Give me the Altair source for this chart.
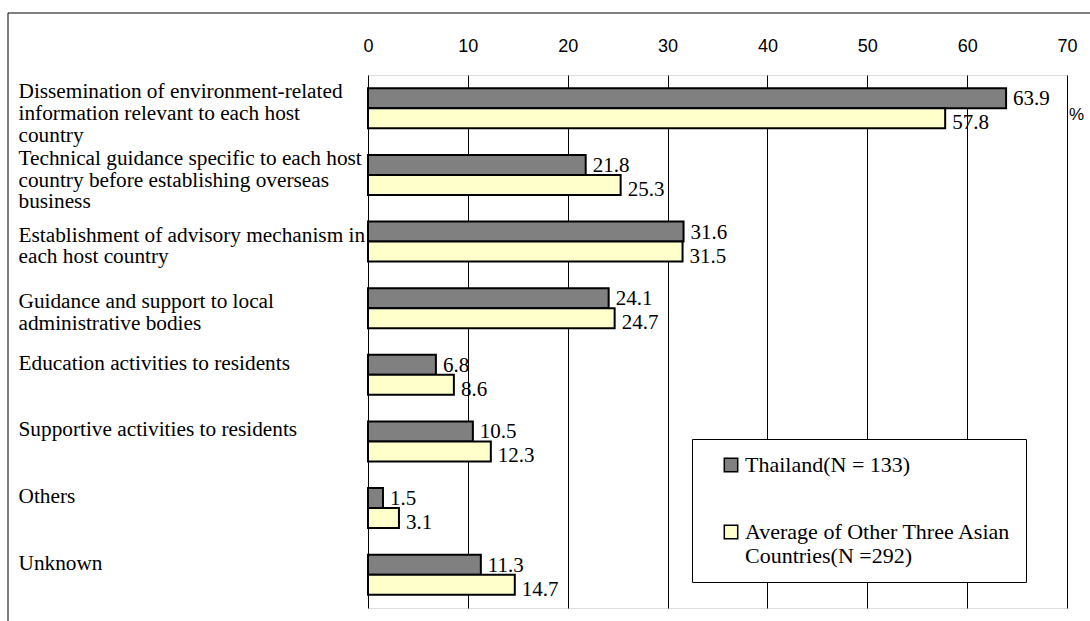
import altair as alt
import pandas as pd

# Survey items (line breaks marked with "|")
categories = [
    "Dissemination of environment-related|information relevant to each host|country",
    "Technical guidance specific to each host|country before establishing overseas|business",
    "Establishment of advisory mechanism in|each host country",
    "Guidance and support to local|administrative bodies",
    "Education activities to residents",
    "Supportive activities to residents",
    "Others",
    "Unknown",
]
series_names = ["Thailand(N = 133)", "Average of Other Three Asian|Countries(N =292)"]
thailand = [63.9, 21.8, 31.6, 24.1, 6.8, 10.5, 1.5, 11.3]
other_three = [57.8, 25.3, 31.5, 24.7, 8.6, 12.3, 3.1, 14.7]
x_ticks = [0, 10, 20, 30, 40, 50, 60, 70]

rows = []
for cat, a, b in zip(categories, thailand, other_three):
    rows.append({"item": cat, "series": series_names[0], "value": a})
    rows.append({"item": cat, "series": series_names[1], "value": b})
df = pd.DataFrame(rows)

W, H = 699, 533
SERIF = "Liberation Serif"
SANS = "Liberation Sans"

# vertical nudge of each item label block, by its number of lines
label_offset = {
    "condition": [
        {"test": "length(split(datum.value, '|')) == 3", "value": -16},
        {"test": "length(split(datum.value, '|')) == 2", "value": -6},
    ],
    "value": -11,
}

y_enc = alt.Y(
    "item:N",
    sort=categories,
    scale=alt.Scale(paddingInner=0.4, paddingOuter=0.2),
    axis=alt.Axis(
        orient="left",
        title=None,
        domain=False,
        ticks=False,
        labelAlign="left",
        labelPadding=350,
        labelFont=SERIF,
        labelFontSize=21.3,
        labelColor="black",
        labelLineHeight=21.7,
        labelLimit=400,
        labelBaseline="middle",
        labelOffset=label_offset,
        labelExpr="split(datum.label, '|')",
    ),
)
yoff_enc = alt.YOffset(
    "series:N", sort=series_names, scale=alt.Scale(paddingInner=0, paddingOuter=0)
)
x_enc = alt.X(
    "value:Q",
    scale=alt.Scale(domain=[0, 70], nice=False, zero=True),
    axis=alt.Axis(
        orient="top",
        title=None,
        values=x_ticks,
        domain=False,
        ticks=False,
        grid=True,
        gridColor="black",
        gridWidth=1,
        gridOpacity=1,
        labelFont=SANS,
        labelFontSize=18,
        labelColor="black",
        labelPadding=20,
        labelFlush=False,
    ),
)

base = alt.Chart(df)

bars = base.mark_bar(stroke="black", strokeWidth=2).encode(
    y=y_enc,
    yOffset=yoff_enc,
    x=x_enc,
    color=alt.Color(
        "series:N",
        sort=series_names,
        scale=alt.Scale(domain=series_names, range=["#808080", "#FFFFCC"]),
        legend=alt.Legend(
            title=None,
            orient="none",
            legendX=324,
            legendY=364,
            fillColor="white",
            strokeColor="black",
            padding=15,
            symbolOffset=13,
            symbolType="square",
            symbolSize=180,
            symbolStrokeColor="black",
            symbolStrokeWidth=1.5,
            symbolOpacity=1,
            labelFont=SERIF,
            labelFontSize=22,
            labelColor="black",
            labelOffset=3,
            labelLimit=400,
            rowPadding=45,
            labelExpr="split(datum.label, '|')",
        ),
    ),
)

labels_a = base.transform_filter(alt.datum.series == series_names[0]).mark_text(
    align="left", baseline="middle", dx=7, dy=1, font=SERIF, fontSize=21, color="black"
).encode(y=y_enc, yOffset=yoff_enc, x=x_enc, text=alt.Text("value:Q", format=".1f"))

labels_b = base.transform_filter(alt.datum.series == series_names[1]).mark_text(
    align="left", baseline="middle", dx=7, dy=5, font=SERIF, fontSize=21, color="black"
).encode(y=y_enc, yOffset=yoff_enc, x=x_enc, text=alt.Text("value:Q", format=".1f"))

unit_df = pd.DataFrame({"u": ["%"]})
unit = alt.Chart(unit_df).mark_text(
    font=SANS, fontSize=17, color="black", align="left", baseline="middle"
).encode(x=alt.value(W + 2), y=alt.value(40), text="u:N")

frame = alt.Chart(unit_df).mark_rect(
    filled=False, stroke="black", strokeWidth=1
).encode(x=alt.value(-360), x2=alt.value(W + 60), y=alt.value(-62), y2=alt.value(H + 60))

chart = (
    alt.layer(frame, bars, labels_a, labels_b, unit)
    .properties(
        width=W,
        height=H,
        autosize=alt.AutoSizeParams(type="none"),
        padding={"left": 368, "top": 75, "right": 23, "bottom": 13},
    )
    .configure_view(stroke="black", strokeWidth=2)
    .configure(background="white")
)

chart.save("out.html", embed_options={"renderer": "svg", "actions": False})
